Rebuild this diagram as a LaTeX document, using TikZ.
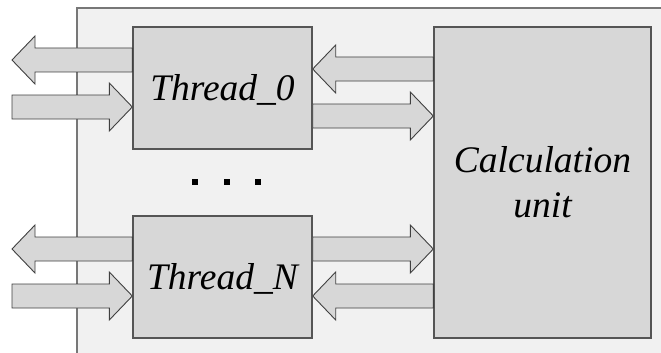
\documentclass[tikz,border=0pt]{standalone}
\usepackage{fontspec}
\setmainfont{Liberation Serif}
\newfontfamily\labfont{Liberation Serif}
\usetikzlibrary{calc}
\definecolor{panelfill}{HTML}{F1F1F1}
\definecolor{boxfill}{HTML}{D7D7D7}
\definecolor{edgegray}{HTML}{555555}
\definecolor{arrowedge}{HTML}{404040}
\tikzset{
  panel/.style={fill=panelfill},
  paneledge/.style={draw=edgegray!80, line width=1.2pt},
  unitbox/.style={draw=edgegray, fill=boxfill, line width=1.4pt, inner sep=0pt,
    font=\labfont\fontsize{37.5}{45}\selectfont\itshape, align=center},
  fatarrow/.style={draw=arrowedge, fill=boxfill, line width=0.9pt, line join=miter},
  dotmark/.style={fill=black, minimum size=5.5pt, inner sep=0pt},
}
\newcommand\fatarr[2]{%
  \draw[fatarrow] let \p1=#1, \p2=#2, \n1={ifthenelse(\x2>\x1,1,-1)} in
    (\x1,\y1+12pt) -- (\x2-\n1*23pt,\y1+12pt) -- (\x2-\n1*23pt,\y1+24pt) --
    (\x2,\y1) -- (\x2-\n1*23pt,\y1-24pt) -- (\x2-\n1*23pt,\y1-12pt) --
    (\x1,\y1-12pt) -- cycle;}
\begin{document}
\begin{tikzpicture}[x=1pt,y=-1pt]
\useasboundingbox (0,0) rectangle (661,353);
% background panel
\fill[panel] (77,8) rectangle (662,354);
\draw[paneledge] (77,354) -- (77,8) -- (662,8);
% free ends on the left
\coordinate (a0) at (12,60);
\coordinate (b0) at (12,107);
\coordinate (aN) at (12,249);
\coordinate (bN) at (12,296);
% boxes
\node[unitbox, minimum width=179pt, minimum height=122pt, text depth=1pt] (t0) at (222.5,88) {Thread\_0};
\node[unitbox, minimum width=179pt, minimum height=122pt, text depth=1pt] (tN) at (222.5,277) {Thread\_N};
\node[unitbox, minimum width=217pt, minimum height=311pt] (cu) at (542.5,182.5) {Calculation\\unit};
% arrows
\fatarr{(t0.west |- a0)}{(a0)}
\fatarr{(b0)}{(t0.west |- b0)}
\fatarr{(tN.west |- aN)}{(aN)}
\fatarr{(bN)}{(tN.west |- bN)}
\fatarr{($(cu.west)+(0,-113.5)$)}{($(t0.east)+(0,-19)$)}
\fatarr{($(t0.east)+(0,28)$)}{($(cu.west)+(0,-66.5)$)}
\fatarr{($(tN.east)+(0,-28)$)}{($(cu.west)+(0,66.5)$)}
\fatarr{($(cu.west)+(0,113.5)$)}{($(tN.east)+(0,19)$)}
% dots
\node[dotmark] (d1) at (195,182) {};
\node[dotmark] (d2) at (227,182) {};
\node[dotmark] (d3) at (258,182) {};
\end{tikzpicture}
\end{document}
